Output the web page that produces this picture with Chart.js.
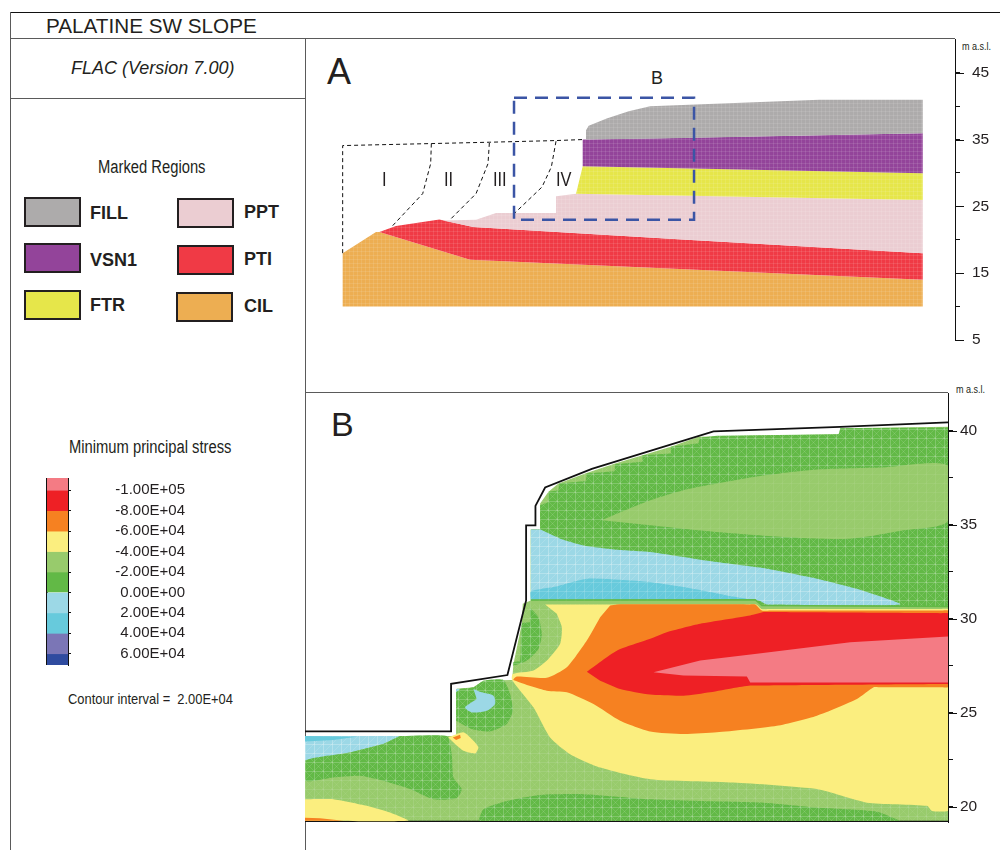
<!DOCTYPE html>
<html>
<head>
<meta charset="utf-8">
<title>Palatine SW slope</title>
<script src="https://cdn.jsdelivr.net/npm/chart.js@4"></script>
<style>
html, body { margin: 0; padding: 0; background: #fff; }
body { position: relative; width: 1000px; height: 850px; overflow: hidden; font-family: "Liberation Sans", Arial, sans-serif; color: #231f20; }
canvas { position: absolute; }
.rule { position: absolute; background: #5a5a5a; }
.t { position: absolute; white-space: pre; line-height: 1; }
.narrow { transform: scaleX(0.82); transform-origin: left center; }
.swatch { position: absolute; box-sizing: border-box; width: 57px; height: 30px; border: 2px solid #231f20; }
.reg { position: absolute; font-weight: bold; font-size: 18px; line-height: 1; }
</style>
</head>
<body>
<div class="rule" style="left:10px;top:12px;width:990px;height:1px;background:#111"></div>
<div class="rule" style="left:10px;top:38px;width:945px;height:1px"></div>
<div class="rule" style="left:10px;top:12px;width:1px;height:838px"></div>
<div class="rule" style="left:305px;top:39px;width:1px;height:811px"></div>
<div class="rule" style="left:10px;top:98px;width:295px;height:1px"></div>
<div class="rule" style="left:305px;top:392px;width:643px;height:1px"></div>
<div class="rule" style="left:305px;top:820px;width:643px;height:2px;background:#111"></div>
<div class="rule" style="left:46px;top:478px;width:2px;height:187px;background:#111"></div>

<div class="t" style="left:46px;top:16px;font-size:20.7px">PALATINE SW SLOPE</div>
<div class="t" style="left:71px;top:59px;font-size:18px;font-style:italic">FLAC (Version 7.00)</div>
<div class="t narrow" style="left:98px;top:158px;font-size:18px">Marked Regions</div>
<div class="t narrow" style="left:69px;top:438px;font-size:18px">Minimum principal stress</div>
<div class="t narrow" style="left:68px;top:691px;font-size:15px;transform:scaleX(0.86)">Contour interval =  2.00E+04</div>
<div class="t" style="left:327px;top:54px;font-size:36px">A</div>
<div class="t" style="left:651px;top:69px;font-size:18px">B</div>
<div class="t" style="left:331px;top:407px;font-size:34px">B</div>
<div class="t narrow" style="left:962px;top:41px;font-size:11px">m a.s.l.</div>
<div class="t narrow" style="left:956px;top:384px;font-size:11px">m a.s.l.</div>
<div id="legend"></div>

<canvas id="panelA" width="695" height="312" style="left:305px;top:39px"></canvas>
<canvas id="panelB" width="695" height="440" style="left:305px;top:393px"></canvas>
<canvas id="colorBar" width="138" height="203" style="left:47px;top:470px"></canvas>

<div class="t narrow" style="left:382px;top:169px;font-size:20px">I</div>
<div class="t narrow" style="left:444px;top:169px;font-size:20px">II</div>
<div class="t narrow" style="left:493px;top:169px;font-size:20px">III</div>
<div class="t narrow" style="left:556px;top:169px;font-size:20px">IV</div>

<script>
// marked regions (panel A): [distance along section, m a.s.l.]
const regionNames = ["FILL", "VSN1", "FTR", "PPT", "PTI", "CIL"];
const regionColors = ["#adabab", "#93449a", "#e6e64a", "#ebcdd2", "#f03a45", "#edae52"];

const cilOutline = [[0, 18], [5, 21.15], [5.5, 21.15], [19.1, 17], [87, 14], [87, 10], [0, 10]];
const ptiOutline = [[5.5, 21.15], [8, 22.05], [14.5, 23.05], [19.6, 21.9], [51.6, 20], [87, 18], [87, 14], [19.1, 17]];
const pptOutline = [[32, 26.5], [35, 26.9], [87, 25.95], [87, 18], [51.6, 20], [19.6, 21.9], [15, 22.9], [20, 23], [23, 24], [32, 24]];
const ftrOutline = [[36, 31], [87, 29.95], [87, 25.95], [35, 26.9]];
const vsnOutline = [[36, 35], [47.6, 35.2], [87, 35.95], [87, 29.95], [36, 31]];
const fillOutline = [[36.5, 35], [36.5, 36.4], [36.9, 37.05], [39.6, 38.15], [42.9, 39.25], [46.1, 40], [71.5, 40.95], [87, 40.95], [87, 35.95], [47.6, 35.15]];

// sliding surfaces and zoom box (panel A)
const oldSlope = [[0, 18], [0, 34.1], [13.3, 34.4], [22, 34.6], [32, 34.85], [36, 35]];
const surfaceI = [[13.3, 34.4], [13.2, 31.4], [12, 26.9], [7.3, 21.9]];
const surfaceII = [[22, 34.5], [21.8, 31.4], [20, 26.9], [16, 22.9]];
const surfaceIV = [[32, 34.75], [31.3, 30.9], [29.9, 27.9], [25.6, 23.8]];
const zoomBox = [[25.7, 41.25], [52.7, 41.25], [52.7, 23], [25.7, 23], [25.7, 41.25]];

const axisATicks = [5, 10, 15, 20, 25, 30, 35, 40, 45];
const axisBTicks = [20, 22.5, 25, 27.5, 30, 32.5, 35, 37.5, 40];

// contour bands (panel B): [mesh x, m a.s.l.]
const meshBase = [[15, 23.75], [468, 23.75], [468, 26.26], [520, 26.35], [550, 26.7], [636, 26.74], [640, 27.59], [665, 29.73], [668, 30.79], [692, 30.97], [692, 34.74], [720, 34.74], [720, 36.13], [745, 36.75], [775, 37.19], [855, 37.73], [945, 38.26], [1027, 38.7], [1112, 39.15], [1195, 39.68], [1620, 39.81], [1620, 40.13], [1943, 40.21], [1943, 19.24], [15, 19.24]];
const upperGreen = [[720, 34.74], [720, 36.04], [745, 36.21], [745, 36.75], [775, 36.84], [778, 37.19], [857, 37.33], [860, 37.73], [943, 37.85], [945, 38.22], [1027, 38.35], [1027, 38.7], [1110, 38.79], [1112, 39.15], [1195, 39.33], [1198, 39.63], [1250, 39.73], [1615, 39.82], [1620, 40.13], [1943, 40.18], [1943, 30.61], [692, 30.93], [692, 34.74]];
const upperLens = [[905, 35.24], [1050, 36.3], [1150, 36.84], [1250, 37.19], [1400, 37.64], [1550, 37.94], [1750, 38.05], [1943, 38.12], [1943, 35.2], [1810, 34.7], [1650, 34.26], [1450, 34.35], [1250, 34.61], [1050, 34.97]];
const upperBlue = [[692, 34.74], [720, 34.74], [780, 34.26], [850, 33.9], [950, 33.67], [1050, 33.55], [1250, 33.01], [1400, 32.66], [1550, 32.13], [1670, 31.59], [1800, 30.76], [1400, 30.76], [1375, 30.97], [692, 31.01]];
const upperCyan = [[692, 31.01], [692, 31.45], [760, 31.68], [860, 32.13], [960, 32.07], [1050, 31.95], [1150, 31.68], [1280, 31.24], [1360, 31.01]];
const thinBand = [[692, 30.95], [1365, 31.01], [1385, 30.7], [1943, 30.65], [1943, 30.51], [1385, 30.51], [1365, 30.76], [692, 30.76]];
const bigYellow = [[735, 30.76], [760, 30.76], [1340, 30.76], [1368, 30.76], [1385, 30.51], [1410, 30.51], [1920, 30.51], [1943, 30.51], [1943, 30.3], [1943, 20], [1943, 19.77], [1895, 19.77], [1880, 20.04], [1700, 20.21], [1550, 20.93], [1300, 21.28], [1050, 21.46], [900, 22.08], [810, 22.79], [750, 23.68], [700, 25.28], [636, 26.74], [638, 27.06], [700, 27.24], [745, 27.86], [780, 28.66], [785, 29.55], [770, 30.26]];
const bigOrange = [[930, 30.7], [950, 30.76], [1340, 30.76], [1365, 30.76], [1385, 30.44], [1410, 30.44], [1920, 30.44], [1943, 30.44], [1943, 30.2], [1943, 26.5], [1943, 26.35], [1920, 26.35], [1740, 26.35], [1720, 26.35], [1670, 25.73], [1550, 24.84], [1430, 24.3], [1250, 23.95], [1150, 23.86], [1050, 24], [960, 24.57], [880, 25.46], [800, 26.08], [740, 26.17], [640, 26.74], [650, 26.92], [740, 26.85], [800, 27.41], [860, 28.84], [900, 30.08]];
const bigRed = [[860, 27.18], [950, 28.3], [1050, 28.93], [1100, 29.28], [1200, 29.73], [1350, 30.17], [1390, 30.35], [1410, 30.35], [1920, 30.29], [1943, 30.29], [1943, 30.1], [1943, 26.7], [1943, 26.53], [1920, 26.53], [1370, 26.45], [1350, 26.44], [1300, 26.31], [1230, 26.08], [1150, 25.9], [1050, 25.96], [960, 26.26], [900, 26.7]];
const bigPink = [[1060, 27.15], [1200, 27.77], [1370, 28.13], [1650, 28.75], [1943, 29.05], [1943, 26.61], [1350, 26.61], [1340, 26.92], [1150, 26.97]];
const crescent = [[690, 30.58], [715, 30.08], [725, 29.19], [715, 28.39], [680, 27.77], [640, 27.5], [640, 27.68], [660, 27.77], [665, 29.73], [690, 29.81]];
const toeGreen = [[468, 26.26], [520, 26.35], [550, 26.7], [610, 26.74], [630, 25.99], [638, 25.1], [620, 24.39], [570, 24], [515, 24.13], [468, 24.57]];
const toeBlue = [[520, 26.26], [545, 26.08], [580, 25.9], [585, 25.46], [560, 25.1], [515, 25.01], [495, 25.28], [530, 25.73]];
const toeEdgeBlue = [[468, 26.26], [480, 26.26], [468, 26.08]];
const toeYellow = [[445, 23.68], [490, 23.95], [520, 23.5], [535, 23.15], [525, 22.83], [490, 22.97], [465, 23.33]];
const toeOrange = [[458, 23.68], [480, 23.82], [482, 23.65], [468, 23.54]];
const leftBlue = [[15, 23.75], [300, 23.75], [250, 23.33], [150, 22.88], [15, 22.44]];
const leftCyan = [[15, 23.75], [170, 23.72], [100, 23.54], [15, 23.47]];
const leftGreen = [[300, 23.75], [440, 23.75], [455, 22.79], [460, 21.55], [485, 20.93], [470, 20.45], [400, 20.39], [330, 20.93], [250, 21.37], [180, 21.64], [100, 21.55], [15, 21.37], [15, 22.44], [150, 22.88], [250, 23.33]];
const lowYellow = [[15, 20.39], [100, 20.39], [200, 20.04], [270, 19.68], [325, 19.24], [15, 19.24]];
const lowOrange = [[15, 19.41], [60, 19.38], [130, 19.24], [15, 19.24]];
const lowGreen = [[535, 19.24], [550, 19.86], [620, 20.3], [720, 20.62], [850, 20.66], [1050, 20.39], [1200, 20.3], [1390, 20.21], [1550, 19.95], [1730, 19.73], [1800, 19.24]];
const groundLine = [[15, 24], [453, 24], [453, 26.53], [622, 27], [678, 30.97], [678, 34.97], [706, 34.97], [706, 36], [735, 36.98], [875, 37.97], [1050, 38.93], [1240, 39.97], [1620, 40.21], [1943, 40.45]];
const greenEdge = [[692, 31], [1365, 31.01], [1385, 30.7], [1943, 30.65]];

// colour scale of minimum principal stress (Pa)
const stressBins = [-112000, -100000, -80000, -60000, -40000, -20000, 0, 20000, 40000, 60000, 71000];
const stressColors = ["#f47b84", "#ee2025", "#f68121", "#fbee7f", "#98cb6c", "#62b946", "#9cd8e6", "#67cadc", "#7b76b6", "#2f4b9f"];
const stressTicks = [-100000, -80000, -60000, -40000, -20000, 0, 20000, 40000, 60000];
const stressLabels = ["-1.00E+05", "-8.00E+04", "-6.00E+04", "-4.00E+04", "-2.00E+04", "0.00E+00", "2.00E+04", "4.00E+04", "6.00E+04"];

const PINK = stressColors[0], RED = stressColors[1], ORANGE = stressColors[2], YELLOW = stressColors[3],
    LGREEN = stressColors[4], GREEN = stressColors[5], BLUE = stressColors[6], CYAN = stressColors[7];

const labelFont = "'Liberation Sans', sans-serif";

function toPoints(list) {
    return list.map(p => ({ x: p[0], y: p[1] }));
}

// faint white finite-difference mesh printed over the contour fills
function meshPattern(base, alpha, crossed) {
    let c = document.createElement("canvas");
    c.width = 9;
    c.height = 9;
    let g = c.getContext("2d");
    g.fillStyle = base;
    g.fillRect(0, 0, 9, 9);
    g.strokeStyle = "rgba(255,255,255," + alpha + ")";
    g.lineWidth = 1;
    g.beginPath();
    g.moveTo(0.5, 0);
    g.lineTo(0.5, 9);
    g.moveTo(0, 0.5);
    g.lineTo(9, 0.5);
    g.stroke();
    g.strokeStyle = "rgba(255,255,255," + (alpha * 0.6) + ")";
    g.beginPath();
    g.moveTo(0, 9);
    g.lineTo(9, 0);
    if (crossed) {
        g.moveTo(0, 0);
        g.lineTo(9, 9);
    }
    g.stroke();
    return g.createPattern(c, "repeat");
}

// small weave that the region fills of panel A show
function weavePattern(base) {
    let c = document.createElement("canvas");
    c.width = 4;
    c.height = 4;
    let g = c.getContext("2d");
    g.fillStyle = base;
    g.fillRect(0, 0, 4, 4);
    g.fillStyle = "rgba(255,255,255,0.1)";
    g.fillRect(0, 0, 4, 1);
    g.fillRect(0, 0, 1, 4);
    return g.createPattern(c, "repeat");
}

function band(list, fillStyle, bend) {
    return {
        data: toPoints(list),
        showLine: true,
        fill: "shape",
        backgroundColor: fillStyle,
        borderWidth: 0,
        pointRadius: 0,
        tension: bend || 0
    };
}

function outline(list, color, width, dash) {
    return {
        data: toPoints(list),
        showLine: true,
        fill: false,
        borderColor: color,
        borderWidth: width,
        borderDash: dash,
        pointRadius: 0,
        tension: 0
    };
}

const longTicks = {
    id: "longTicks",
    afterDraw(chart, args, opts) {
        let y = chart.scales.y, ctx = chart.ctx;
        ctx.save();
        ctx.strokeStyle = "#111";
        ctx.lineWidth = 1;
        opts.values.forEach(v => {
            let py = Math.round(y.getPixelForValue(v)) + 0.5;
            ctx.beginPath();
            ctx.moveTo(chart.chartArea.right, py);
            ctx.lineTo(chart.chartArea.right + opts.length, py);
            ctx.stroke();
        });
        ctx.restore();
    }
};

function sectionOptions(xMin, xMax, yMin, yMax, tickValues, labelled, axisWidth, labelPad, labelSize, bottomPad) {
    return {
        responsive: false,
        animation: false,
        events: [],
        layout: { padding: { top: 0, bottom: bottomPad, left: 0, right: 0 } },
        plugins: {
            legend: { display: false },
            tooltip: { enabled: false },
            longTicks: { values: labelled, length: 9 }
        },
        scales: {
            x: { type: "linear", display: false, min: xMin, max: xMax },
            y: {
                type: "linear",
                position: "right",
                min: yMin,
                max: yMax,
                afterBuildTicks: s => { s.ticks = tickValues.map(v => ({ value: v })); },
                afterFit: s => { s.width = axisWidth; s.paddingTop = 0; s.paddingBottom = 0; },
                grid: { drawOnChartArea: false, tickLength: 5, tickColor: "#111", tickWidth: 1 },
                border: { color: "#111", width: 1 },
                ticks: {
                    autoSkip: false,
                    padding: labelPad,
                    color: "#231f20",
                    font: { family: labelFont, size: labelSize },
                    callback: v => (labelled.includes(v) ? String(v) : "")
                }
            }
        }
    };
}

// panel A
new Chart(document.getElementById("panelA"), {
    type: "scatter",
    data: {
        datasets: [
            band(cilOutline, weavePattern(regionColors[5])),
            band(ptiOutline, weavePattern(regionColors[4])),
            band(pptOutline, weavePattern(regionColors[3])),
            band(ftrOutline, weavePattern(regionColors[2])),
            band(vsnOutline, weavePattern(regionColors[1])),
            band(fillOutline, weavePattern(regionColors[0])),
            outline(oldSlope, "#111", 1, [4, 3]),
            outline(surfaceI, "#111", 1, [4, 3]),
            outline(surfaceII, "#111", 1, [4, 3]),
            outline(surfaceIV, "#111", 1, [4, 3]),
            outline(zoomBox, "#3b55a5", 2.5, [13, 8])
        ].reverse()
    },
    options: sectionOptions(-5.65, 91.84, 5, 50.05, axisATicks, [5, 15, 25, 35, 45], 45, 12, 15.5, 11),
    plugins: [longTicks]
});

// panel B
new Chart(document.getElementById("panelB"), {
    type: "scatter",
    data: {
        datasets: [
            band(meshBase, meshPattern(LGREEN, 0.1, true)),
            band(upperGreen, meshPattern(GREEN, 0.2, true)),
            band(upperLens, meshPattern(LGREEN, 0.06, false), 0.25),
            band(upperBlue, meshPattern(BLUE, 0.25, false), 0.15),
            band(upperCyan, meshPattern(CYAN, 0.15, false), 0.2),
            band(thinBand, LGREEN),
            outline(greenEdge, GREEN, 1.5, []),
            band(bigYellow, YELLOW, 0.2),
            band(bigOrange, ORANGE, 0.2),
            band(bigRed, RED, 0.2),
            band(bigPink, PINK),
            band(crescent, meshPattern(GREEN, 0.2, true), 0.2),
            band(toeGreen, meshPattern(GREEN, 0.2, true), 0.2),
            band(toeBlue, BLUE, 0.25),
            band(toeEdgeBlue, BLUE),
            band(toeYellow, YELLOW, 0.2),
            band(toeOrange, ORANGE),
            band(leftBlue, meshPattern(BLUE, 0.25, false)),
            band(leftCyan, CYAN),
            band(leftGreen, meshPattern(GREEN, 0.2, true), 0.2),
            band(lowYellow, YELLOW, 0.15),
            band(lowOrange, ORANGE),
            band(lowGreen, meshPattern(GREEN, 0.2, true), 0.2),
            outline(groundLine, "#111", 1.8, [])
        ].reverse()
    },
    options: sectionOptions(15, 1943, 19.18, 42.01, axisBTicks, [20, 25, 30, 35, 40], 52, 7, 15.5, 11),
    plugins: [longTicks]
});

// colour bar
new Chart(document.getElementById("colorBar"), {
    type: "bar",
    data: {
        labels: ["stress"],
        datasets: stressColors.map((col, i) => ({
            data: [[stressBins[i], stressBins[i + 1]]],
            backgroundColor: col,
            borderWidth: 0,
            grouped: false,
            barPercentage: 1,
            categoryPercentage: 1
        }))
    },
    options: {
        responsive: false,
        animation: false,
        events: [],
        layout: { padding: { top: 8, bottom: 8 } },
        plugins: { legend: { display: false }, tooltip: { enabled: false } },
        scales: {
            x: { display: false },
            y: {
                position: "right",
                reverse: true,
                min: stressBins[0],
                max: stressBins[stressBins.length - 1],
                afterBuildTicks: s => { s.ticks = stressTicks.map(v => ({ value: v })); },
                afterFit: s => { s.width = 117; s.paddingTop = 0; s.paddingBottom = 0; },
                grid: { drawOnChartArea: false, tickLength: 3, tickColor: "#111" },
                border: { color: "#111", width: 1 },
                ticks: {
                    autoSkip: false,
                    crossAlign: "far",
                    color: "#231f20",
                    font: { family: labelFont, size: 15 },
                    callback: v => stressLabels[stressTicks.indexOf(v)]
                }
            }
        }
    }
});

// marked regions legend
const legendSpots = [[24, 197, 90, 204], [24, 243, 90, 251], [24, 290, 90, 296], [177, 198, 244, 203], [177, 245, 244, 250], [176, 292, 244, 297]];
regionNames.forEach((name, i) => {
    let spot = legendSpots[i];
    let box = document.createElement("div");
    box.className = "swatch";
    box.style.cssText = "left:" + spot[0] + "px;top:" + spot[1] + "px;background:" + regionColors[i];
    let label = document.createElement("div");
    label.className = "reg";
    label.style.cssText = "left:" + spot[2] + "px;top:" + spot[3] + "px";
    label.textContent = name;
    let holder = document.getElementById("legend");
    holder.appendChild(box);
    holder.appendChild(label);
});
</script>
</body>
</html>
